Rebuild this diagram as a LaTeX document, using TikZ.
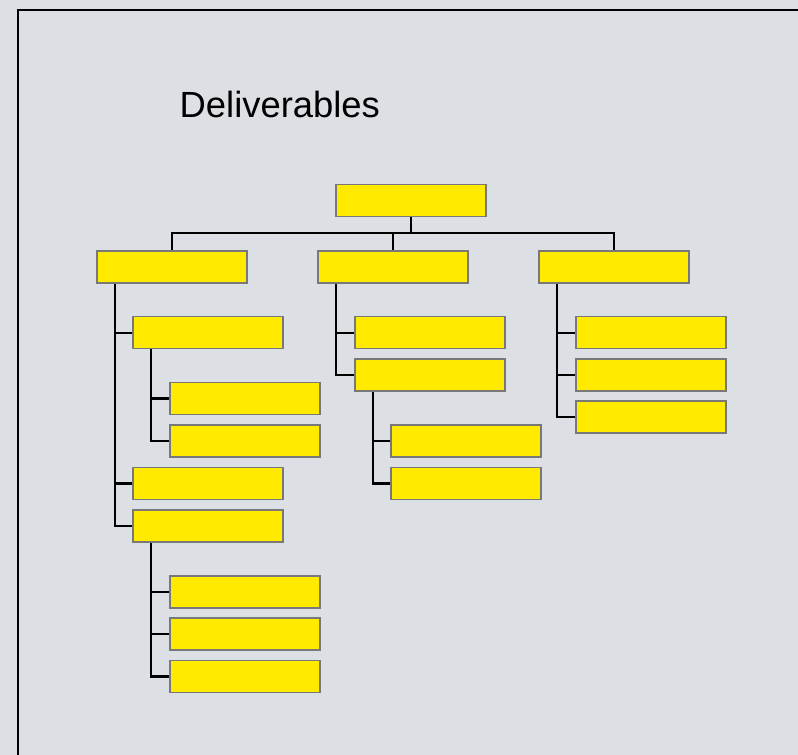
\documentclass[tikz,border=0pt]{standalone}
\usepackage{fontspec}
\setmainfont{Liberation Sans}
\definecolor{panel}{RGB}{220,224,228}
\definecolor{boxfill}{RGB}{255,234,0}
\definecolor{boxline}{RGB}{120,120,120}
\pgfdeclarelayer{bg}
\pgfdeclarelayer{links}
\pgfsetlayers{bg,links,main}
\tikzset{
  wbs/.style={draw=boxline, line width=1.5pt, fill=boxfill, rectangle,
    minimum width=150pt, minimum height=32pt, inner sep=0pt},
  link/.style={draw=black, line width=2.2pt},
  frameline/.style={draw=black, line width=2.5pt}
}
\begin{document}
\begin{tikzpicture}[x=1pt, y=-1pt]
\useasboundingbox (0,0) rectangle (798,755);
\begin{pgfonlayer}{bg}
  \fill[panel] (0,0) rectangle (798,755);
  \begin{scope}
    \clip (0,0) rectangle (798,755);
    \draw[frameline] (18,770) -- (18,10) -- (810,10);
  \end{scope}
\end{pgfonlayer}

\node[anchor=base west, inner sep=0pt, font=\fontsize{36.4}{40}\selectfont] (title) at (179.5,117) {Deliverables};

% root and first level
\node[wbs] (top) at (411,200.5) {};
\node[wbs] (A) at (172,267) {};
\node[wbs] (B) at (393,267) {};
\node[wbs] (C) at (614,267) {};

% left branch
\node[wbs] (A1) at (208,332.7) {};
\node[wbs] (A1a) at (245,398.5) {};
\node[wbs] (A1b) at (245,441) {};
\node[wbs] (A2) at (208,483.5) {};
\node[wbs] (A3) at (208,526) {};
\node[wbs] (A3a) at (245,592) {};
\node[wbs] (A3b) at (245,634) {};
\node[wbs] (A3c) at (245,676.5) {};

% middle branch
\node[wbs] (B1) at (430,332.7) {};
\node[wbs] (B2) at (430,375) {};
\node[wbs] (B2a) at (466,441) {};
\node[wbs] (B2b) at (466,483.5) {};

% right branch
\node[wbs] (C1) at (651,332.7) {};
\node[wbs] (C2) at (651,375) {};
\node[wbs] (C3) at (651,417) {};

\coordinate (bus) at (0,233.3);

\begin{pgfonlayer}{links}
  % root to first level
  \draw[link] (top.south) -- (top.south |- bus);
  \draw[link] (A.north) |- (C.north |- bus) -- (C.north);
  \draw[link] (B.north) -- (B.north |- bus);
  % each spine runs down to its last child in one stroke
  \foreach \p/\c in {A/A3, A1/A1b, A3/A3c, B/B2, B2/B2b, C/C3}
    \draw[link] ([xshift=19pt]\p.south west) |- (\c.west);
  % short stubs to the other children
  \foreach \p/\c in {A/A1, A/A2, A1/A1a, A3/A3a, A3/A3b, B/B1, B2/B2a, C/C1, C/C2}
    \draw[link] ([xshift=19pt]\p.south west |- \c.west) -- (\c.west);
\end{pgfonlayer}
\end{tikzpicture}
\end{document}
